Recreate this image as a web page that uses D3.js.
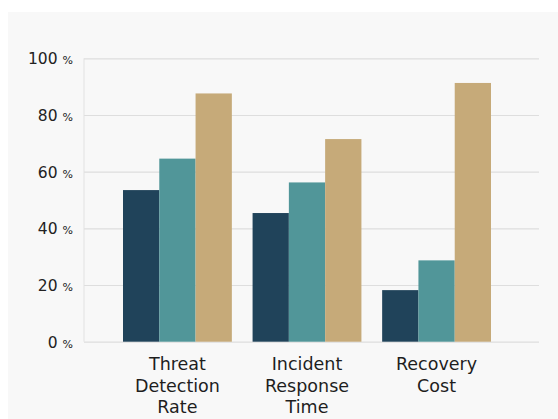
<!DOCTYPE html>
<html>
<head>
<meta charset="utf-8">
<script src="https://cdn.jsdelivr.net/npm/d3@7"></script>
<style>
  html, body { margin: 0; padding: 0; background: #ffffff; }
  svg { display: block; font-family: "DejaVu Sans", "Liberation Sans", Arial, sans-serif; }
</style>
</head>
<body>
<svg id="chart" width="558" height="419"></svg>
<script>
// Metric groups and the three compared series
const categories = ["Threat Detection Rate", "Incident Response Time", "Recovery Cost"];
const categoryLines = [["Threat", "Detection", "Rate"], ["Incident", "Response", "Time"], ["Recovery", "Cost"]];
const seriesNames = ["Baseline", "Improved", "Advanced"];
const seriesA = [53.5, 45.4, 18.2];
const seriesB = [64.6, 56.2, 28.7];
const seriesC = [87.6, 71.5, 91.3];
const seriesColors = ["#20435a", "#519699", "#c6aa79"];
const yTicks = [0, 20, 40, 60, 80, 100];

const svg = d3.select("#chart");

// soft panel behind the plot
svg.append("rect").attr("x", 8).attr("y", 12).attr("width", 550).attr("height", 407).attr("fill", "#f8f8f8");

const plotLeft = 84, plotRight = 539;
const y = d3.scaleLinear().domain([0, 100]).range([341.7, 58.3]);

const x0 = d3.scaleBand().domain(categories).range([123, 491]).paddingInner(0.16).paddingOuter(0);
const x1 = d3.scaleBand().domain(seriesNames).range([0, x0.bandwidth()]).padding(0);

// horizontal grid
const grid = svg.append("g").attr("transform", `translate(${plotLeft},0)`)
  .call(d3.axisLeft(y).tickValues(yTicks).tickSize(-(plotRight - plotLeft)).tickFormat(""));
grid.select(".domain").remove();
grid.selectAll(".tick line").attr("stroke", "#dedede").attr("stroke-width", 1.2);

// left vertical rule
svg.append("line").attr("x1", plotLeft).attr("x2", plotLeft).attr("y1", y(100)).attr("y2", y(0))
  .attr("stroke", "#e2e2e2").attr("stroke-width", 1);

// y labels: value plus smaller percent sign
const yLab = svg.append("g");
yTicks.forEach(t => {
  const txt = yLab.append("text").attr("x", 73).attr("y", y(t) + 6)
    .attr("text-anchor", "end").attr("fill", "#222");
  txt.append("tspan").attr("font-size", 15.5).text(t);
  txt.append("tspan").attr("font-size", 11).attr("dx", 5).text("%");
});

// bars
const data = categories.map((c, i) => ({ c, vals: [seriesA[i], seriesB[i], seriesC[i]] }));
const groups = svg.append("g").selectAll("g").data(data).join("g")
  .attr("transform", d => `translate(${x0(d.c)},0)`);
groups.selectAll("rect").data(d => d.vals.map((v, j) => ({ v, s: seriesNames[j], j })))
  .join("rect")
  .attr("x", d => x1(d.s))
  .attr("width", x1.bandwidth())
  .attr("y", d => y(d.v))
  .attr("height", d => y(0) - y(d.v))
  .attr("fill", d => seriesColors[d.j]);

// category labels
categories.forEach((c, i) => {
  const cx = x0(c) + x0.bandwidth() / 2;
  const t = svg.append("text").attr("x", cx).attr("y", 370)
    .attr("text-anchor", "middle").attr("font-size", 17.5).attr("fill", "#1e1e1e");
  categoryLines[i].forEach((line, k) => {
    t.append("tspan").attr("x", cx).attr("dy", k === 0 ? 0 : 21.5).text(line);
  });
});
</script>
</body>
</html>
